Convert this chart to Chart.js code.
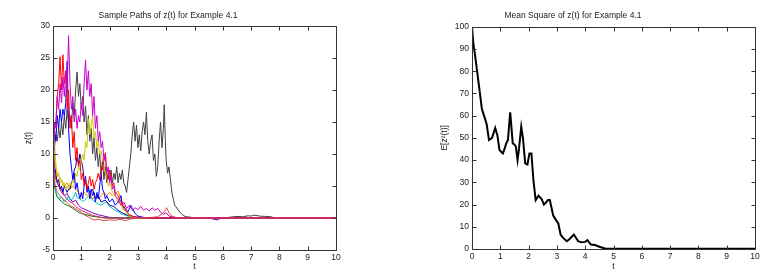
<!DOCTYPE html>
<html>
<head>
<meta charset="utf-8">
<script src="https://cdn.jsdelivr.net/npm/chart.js@4.4.0/dist/chart.umd.min.js"></script>
<style>
body { margin: 0; background: #fff; }
#wrap { position: relative; width: 782px; height: 280px; }
canvas { position: absolute; top: 0; }
</style>
</head>
<body>
<div id="wrap">
  <canvas id="pathsChart" width="391" height="280" style="left:0"></canvas>
  <canvas id="msChart" width="391" height="280" style="left:391px"></canvas>
</div>
<script>
// sample paths of z(t) as [t, z] pairs
const pathCrimson = [[0,10],[0.05,7.5],[0.1,6],[0.2,5],[0.3,4],[0.4,3.5],[0.5,3],[0.6,2.5],[0.7,2.3],[0.8,1.8],[0.9,1.5],[1.0,1.2],[1.2,0.8],[1.4,0.4],[1.6,0.2],[1.8,0],[10,0]];
const pathSalmon = [[0,10],[0.03,7],[0.08,5],[0.15,4],[0.25,3.5],[0.35,3],[0.45,2.6],[0.55,2.2],[0.65,1.8],[0.75,1.6],[0.85,1.3],[0.95,1.1],[1.05,0.6],[1.2,0.3],[1.3,0],[1.45,-0.3],[1.6,-0.2],[1.8,-0.4],[2.0,-0.3],[2.2,-0.35],[2.4,-0.2],[2.55,-0.45],[2.7,-0.2],[2.9,0],[3.2,0.05],[3.5,0.1],[3.7,0.2],[3.85,0.6],[3.95,1.1],[4.02,1.6],[4.1,0.8],[4.2,0.3],[4.4,0],[10,0]];
const pathMagenta = [[0,10],[0.03,13],[0.05,15],[0.1,14],[0.15,19],[0.2,17],[0.25,21],[0.3,18],[0.35,22],[0.4,19],[0.45,23],[0.5,20],[0.55,28.5],[0.6,21],[0.65,17],[0.7,19],[0.75,15],[0.8,17],[0.85,14],[0.9,16],[0.95,15],[1.0,18],[1.05,16],[1.1,21],[1.15,24.7],[1.2,20],[1.25,23],[1.3,19],[1.35,21],[1.4,16],[1.45,19],[1.5,14],[1.55,16],[1.6,12],[1.65,13.5],[1.7,11],[1.75,12],[1.8,9],[1.85,10],[1.9,7],[1.95,8],[2.0,5.5],[2.05,6.5],[2.1,4.5],[2.15,5],[2.2,3.5],[2.3,3],[2.4,2],[2.5,2.5],[2.6,1.5],[2.7,2],[2.8,1.2],[2.9,1.6],[3.0,1.3],[3.1,1.8],[3.2,1.2],[3.3,1.5],[3.4,1.1],[3.5,1.6],[3.6,1.2],[3.7,1.5],[3.8,0.9],[3.9,0.6],[4.0,0.8],[4.1,0.3],[4.3,0.1],[4.6,0],[10,0]];
const pathRed = [[0,10],[0.05,14],[0.1,15],[0.15,19],[0.2,21],[0.25,25.2],[0.3,20],[0.35,25.5],[0.4,21],[0.45,23],[0.5,17],[0.55,20],[0.6,14],[0.65,16],[0.7,11],[0.75,13.5],[0.8,9],[0.85,11],[0.9,8],[0.95,9],[1.0,6],[1.05,7],[1.1,5],[1.15,6],[1.2,4.5],[1.25,5.5],[1.3,6.5],[1.35,5],[1.4,6],[1.45,4.5],[1.5,5.5],[1.55,6],[1.6,7],[1.65,6],[1.7,8],[1.75,7.5],[1.8,9],[1.85,10.2],[1.9,7],[1.95,6],[2.0,7.5],[2.05,6],[2.1,5],[2.15,5.5],[2.2,4],[2.3,3.5],[2.4,2.5],[2.5,1.5],[2.6,1],[2.7,0.5],[2.85,0.2],[3.0,0.1],[3.3,0],[10,0]];
const pathBlue = [[0,10],[0.05,14],[0.1,12],[0.15,16],[0.2,14],[0.25,17],[0.3,15],[0.35,17],[0.4,16],[0.45,18],[0.5,24.5],[0.55,14],[0.6,10],[0.65,8],[0.7,6],[0.75,7],[0.8,4.5],[0.85,5.5],[0.9,4],[0.95,3],[1.0,4],[1.05,3],[1.1,5],[1.15,6.5],[1.2,4],[1.25,5],[1.3,3],[1.35,4.5],[1.4,3.5],[1.45,4],[1.5,2.5],[1.55,4],[1.6,3],[1.65,5],[1.7,7],[1.75,4.5],[1.8,4],[1.85,3],[1.9,3.5],[2.0,2.5],[2.1,3],[2.2,2],[2.3,2.5],[2.4,3.5],[2.45,2],[2.55,1.5],[2.65,1],[2.75,2],[2.8,1.5],[2.9,0.7],[3.0,0.3],[3.2,0.1],[3.5,0],[10,0]];
const pathYellow = [[0,10],[0.05,12],[0.1,8.5],[0.15,6.5],[0.2,7],[0.25,5.5],[0.3,6],[0.35,5],[0.4,5.5],[0.45,4.5],[0.5,5],[0.55,4.5],[0.6,5.5],[0.65,5],[0.7,6],[0.75,5.5],[0.8,7],[0.85,6.5],[0.9,8],[0.95,7.5],[1.0,9],[1.05,10],[1.1,9],[1.15,12],[1.2,11],[1.25,15.5],[1.3,13],[1.35,14.5],[1.4,16],[1.45,12.5],[1.5,13.5],[1.55,11],[1.6,12],[1.65,10],[1.7,10.5],[1.75,9],[1.8,8.5],[1.85,7],[1.9,6.5],[1.95,5],[2.0,5.5],[2.1,4],[2.2,3.5],[2.3,2.5],[2.4,2],[2.5,1.2],[2.6,0.8],[2.7,0.3],[2.85,0.1],[3.0,0],[10,0]];
const pathGray = [[0,10],[0.05,11],[0.1,13],[0.15,12],[0.2,14],[0.25,12.5],[0.3,15],[0.35,13],[0.4,16],[0.45,14],[0.5,17],[0.55,15],[0.6,16],[0.65,14],[0.7,18],[0.75,16],[0.8,20],[0.85,22.8],[0.9,19],[0.95,21],[1.0,17],[1.05,19],[1.1,15],[1.15,17.5],[1.2,13],[1.25,16],[1.3,12],[1.35,14],[1.4,10],[1.45,12.5],[1.5,9],[1.55,11],[1.6,8],[1.65,10],[1.7,7],[1.75,9],[1.8,6],[1.85,8],[1.9,5.5],[1.95,7],[2.0,6],[2.05,7.5],[2.1,5.5],[2.15,7],[2.2,6],[2.25,8],[2.3,5.5],[2.35,7],[2.4,6],[2.45,7.5],[2.5,5.5],[2.55,5],[2.6,4],[2.65,6],[2.7,8],[2.75,10],[2.8,13],[2.85,15],[2.9,12],[2.95,14.5],[3.0,11],[3.05,13],[3.1,10.5],[3.15,13.5],[3.2,15],[3.25,13],[3.3,16.5],[3.35,12],[3.4,10],[3.45,12],[3.5,13],[3.55,9],[3.6,10],[3.65,6.5],[3.7,8],[3.75,12],[3.8,15],[3.85,11],[3.9,14],[3.93,17.7],[3.97,12],[4.0,9],[4.05,7],[4.1,8],[4.15,6],[4.2,4],[4.25,3],[4.3,2],[4.4,1.4],[4.5,0.8],[4.6,0.4],[4.7,0.2],[4.9,0.1],[5.2,0],[5.5,0.05],[5.8,-0.15],[6.0,0],[6.2,0.1],[6.5,0.25],[6.7,0.2],[6.9,0.35],[7.0,0.3],[7.1,0.45],[7.3,0.3],[7.5,0.25],[7.7,0.2],[7.8,0.05],[8,0],[10,0]];
const pathNavy = [[0,10],[0.05,8],[0.1,7],[0.15,5.5],[0.2,6],[0.25,4.5],[0.3,5],[0.35,4],[0.4,5],[0.45,4.5],[0.5,4],[0.55,4.5],[0.6,4.5],[0.65,5.5],[0.7,6],[0.75,7.5],[0.8,8],[0.85,9.5],[0.9,8.5],[0.95,10],[1.0,9],[1.05,8],[1.1,6],[1.15,5.5],[1.2,5],[1.3,4],[1.4,4.5],[1.5,3],[1.6,3.5],[1.7,2.5],[1.85,2.8],[2.0,2],[2.15,1.8],[2.3,1.2],[2.45,0.8],[2.6,0.5],[2.8,0.2],[3.0,0.1],[3.5,0],[10,0]];
const pathOrange = [[0,10],[0.05,9],[0.1,8],[0.15,7],[0.2,6.5],[0.3,6],[0.4,5],[0.5,5.5],[0.6,4.5],[0.7,5],[0.8,4.5],[0.9,4],[1.0,3.5],[1.1,4],[1.2,3.5],[1.3,4],[1.4,3],[1.5,3.5],[1.6,3],[1.7,3.5],[1.8,4],[1.9,3.5],[2.0,4],[2.1,3.5],[2.2,3.8],[2.3,4.2],[2.4,3],[2.5,2],[2.6,1],[2.7,0.5],[2.85,0.2],[3.0,0.1],[3.5,0],[4.0,0.05],[4.6,0],[4.8,0.1],[5.0,0],[10,0]];
const pathCyan = [[0,10],[0.03,6],[0.1,4],[0.15,3.5],[0.25,3],[0.3,3.3],[0.4,2.5],[0.5,3],[0.55,3.5],[0.6,2.8],[0.7,3],[0.8,4],[0.85,3.2],[0.95,3],[1.05,2.6],[1.1,2.7],[1.2,3.2],[1.3,3.5],[1.4,2.8],[1.5,2.5],[1.6,2.2],[1.7,2],[1.8,2.3],[1.9,2.5],[2.0,1.8],[2.1,1.5],[2.2,1.2],[2.3,1],[2.4,0.7],[2.5,0.5],[2.65,0.3],[2.8,0.1],[3.0,0],[10,0]];
const pathGreen = [[0,10],[0.02,7],[0.05,5],[0.1,4],[0.15,3.2],[0.2,3],[0.3,2.6],[0.4,2.2],[0.5,2],[0.6,1.8],[0.7,1.5],[0.8,1.2],[0.9,0.9],[1.0,0.7],[1.1,0.6],[1.2,0.5],[1.35,0.3],[1.5,0.2],[1.7,0.1],[2.0,0],[10,0]];
const pathPurple = [[0,10],[0.05,8],[0.1,6.5],[0.2,5],[0.3,4.5],[0.4,3.5],[0.5,3.8],[0.6,3],[0.7,2.5],[0.8,2.8],[0.9,2],[1.0,1.6],[1.2,1.2],[1.4,0.8],[1.6,0.5],[1.8,0.3],[2.0,0.1],[2.5,0],[3.0,0.05],[3.5,0],[4.5,0],[5.0,0.05],[5.2,-0.05],[5.4,0.1],[5.6,-0.1],[5.8,-0.3],[5.9,-0.1],[6.1,0],[10,0]];

// first one is drawn on top
const paths = [pathCrimson, pathSalmon, pathMagenta, pathRed, pathBlue, pathYellow, pathGray, pathNavy, pathOrange, pathCyan, pathGreen, pathPurple];
const pathColors = ['#cc2266', '#e04848', '#cc00cc', '#ff0000', '#0000ff', '#cccc00', '#404040', '#0000b0', '#ff8000', '#00c0c0', '#008000', '#8000c0'];

// mean square E[z^2(t)]
const msT = [0,0.05,0.1,0.18,0.28,0.35,0.45,0.52,0.6,0.71,0.82,0.9,0.97,1.09,1.15,1.21,1.27,1.35,1.44,1.5,1.55,1.61,1.66,1.74,1.8,1.88,1.96,2.03,2.1,2.17,2.25,2.3,2.35,2.46,2.54,2.62,2.68,2.75,2.87,2.97,3.05,3.13,3.22,3.35,3.45,3.6,3.75,3.87,4.0,4.08,4.2,4.35,4.5,4.7,5,10];
const msVal = [100,92,88,80,70,63,59,56,49,50,54.5,51,44.5,43,45,47.5,49,61.5,47.5,47,46,40,45,55,50,38.5,38,43,43,31,22,23,24,22.5,20,21,22,22,15,13,11.5,6.5,5,3.5,4.5,6.5,3.5,3,3.2,4,2,1.8,1,0.2,0.1,0.1];

const xTicks = [0, 10, 1];
const pathsYTicks = [-5, 30, 5];
const msYTicks = [0, 100, 10];

const axisColor = '#333333';
const fontFamily = "'Liberation Sans', Arial, Helvetica, sans-serif";

// matlab style box with inward ticks on all sides
const boxTicks = {
  id: 'boxTicks',
  afterDatasetsDraw(chart) {
    const {ctx, chartArea: a, scales} = chart;
    const L = Math.round(a.left) + 0.5, R = Math.round(a.right) + 0.5;
    const T = Math.round(a.top) + 0.5, B = Math.round(a.bottom) + 0.5;
    ctx.save();
    ctx.strokeStyle = axisColor;
    ctx.lineWidth = 1;
    ctx.beginPath();
    ctx.rect(L, T, R - L, B - T);
    scales.x.ticks.forEach(t => {
      const px = Math.round(scales.x.getPixelForValue(t.value)) + 0.5;
      ctx.moveTo(px, B); ctx.lineTo(px, B - 4);
      ctx.moveTo(px, T); ctx.lineTo(px, T + 4);
    });
    scales.y.ticks.forEach(t => {
      const py = Math.round(scales.y.getPixelForValue(t.value)) + 0.5;
      ctx.moveTo(L, py); ctx.lineTo(L + 4, py);
      ctx.moveTo(R, py); ctx.lineTo(R - 4, py);
    });
    ctx.stroke();
    ctx.restore();
  }
};

function makeOptions(o) {
  return {
    responsive: false,
    animation: false,
    devicePixelRatio: 1,
    layout: {padding: {left: 0, top: 0, right: o.padRight, bottom: 0}},
    plugins: {
      legend: {display: false},
      tooltip: {enabled: false},
      title: {
        display: true,
        text: o.title,
        color: '#222',
        font: {family: fontFamily, size: 8.5, weight: 'normal'},
        padding: {top: 11, bottom: o.plotTop - 11 - 10.2}
      }
    },
    scales: {
      x: {
        type: 'linear',
        min: xTicks[0], max: xTicks[1],
        ticks: {stepSize: xTicks[2], color: '#222', padding: 3,
                font: {family: fontFamily, size: 8.5}, maxRotation: 0},
        grid: {display: false, drawTicks: false},
        border: {display: false},
        title: {display: true, text: 't', color: '#222',
                font: {family: fontFamily, size: 8.5}, padding: {top: 0, bottom: 8}},
        afterFit: s => { s.height = 280 - o.plotBottom; }
      },
      y: {
        min: o.yTicks[0], max: o.yTicks[1],
        ticks: {stepSize: o.yTicks[2], color: '#222', padding: 3,
                font: {family: fontFamily, size: 8.5}},
        grid: {display: false, drawTicks: false},
        border: {display: false},
        title: {display: true, text: o.yTitle, color: '#222',
                font: {family: fontFamily, size: 8.5}, padding: {top: o.yTitlePad, bottom: 0}},
        afterFit: s => { s.width = o.plotLeft; }
      }
    }
  };
}

new Chart(document.getElementById('pathsChart'), {
  type: 'line',
  data: {
    datasets: paths.map((p, i) => ({
      data: p.map(d => ({x: d[0], y: d[1]})),
      borderColor: pathColors[i],
      borderWidth: 1,
      pointRadius: 0,
      tension: 0,
      fill: false
    }))
  },
  options: makeOptions({
    title: 'Sample Paths of z(t) for Example 4.1',
    yTitle: 'z(t)', yTitlePad: 24,
    yTicks: pathsYTicks,
    plotLeft: 53, plotTop: 26, plotBottom: 250, padRight: 55
  }),
  plugins: [boxTicks]
});

new Chart(document.getElementById('msChart'), {
  type: 'line',
  data: {
    datasets: [{
      data: msT.map((t, i) => ({x: t, y: msVal[i]})),
      borderColor: '#000',
      borderWidth: 2,
      pointRadius: 0,
      tension: 0,
      fill: false
    }]
  },
  options: makeOptions({
    title: 'Mean Square of z(t) for Example 4.1',
    yTitle: 'E[z²(t)]', yTitlePad: 49,
    yTicks: msYTicks,
    plotLeft: 81, plotTop: 26.7, plotBottom: 249, padRight: 27
  }),
  plugins: [boxTicks]
});
</script>
</body>
</html>
